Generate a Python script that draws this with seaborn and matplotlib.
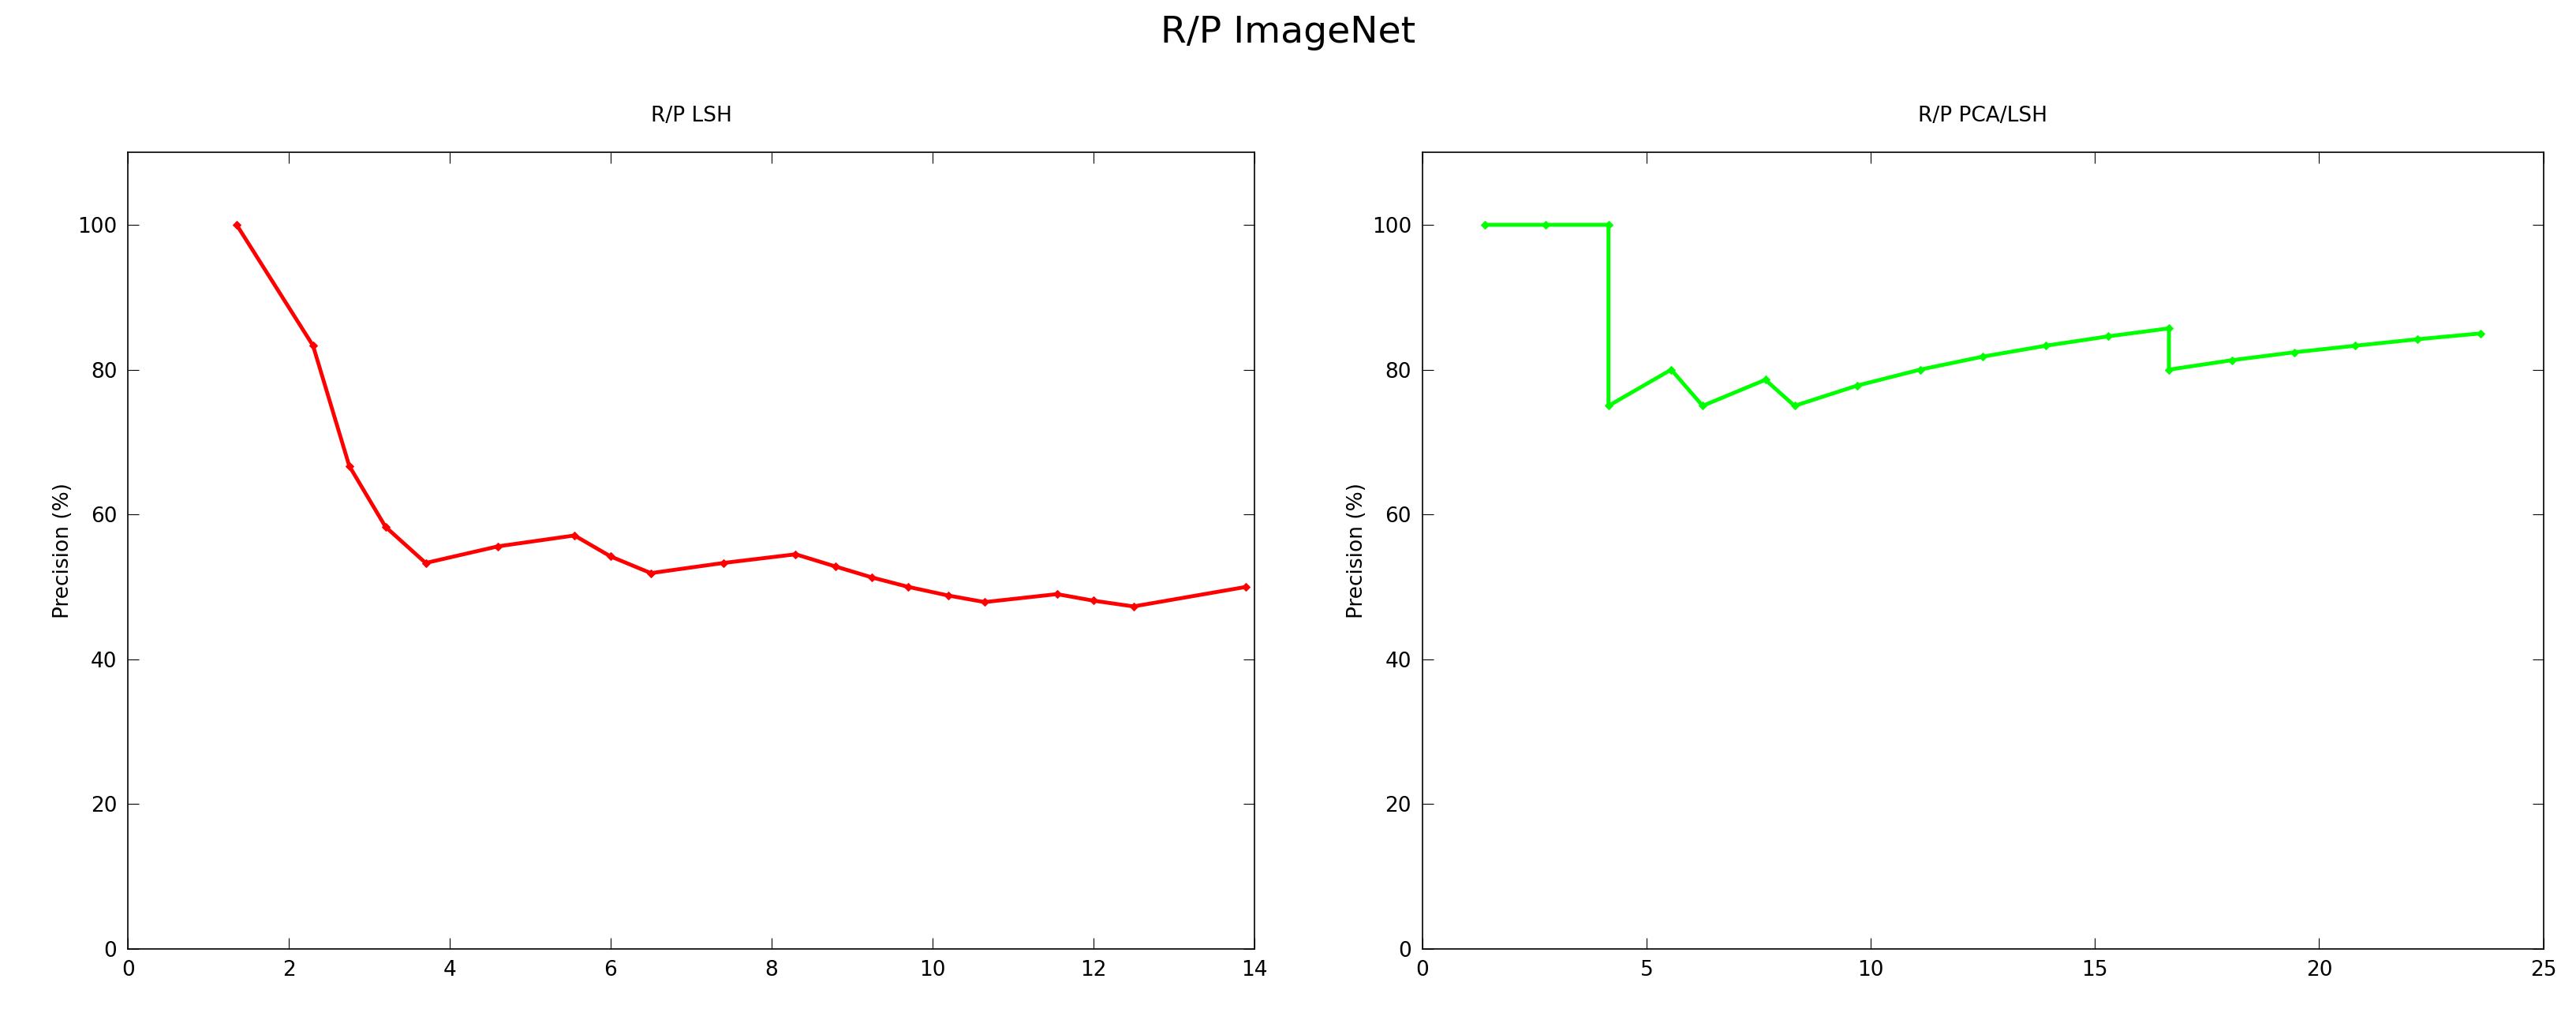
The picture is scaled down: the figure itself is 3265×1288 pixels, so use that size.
import matplotlib
matplotlib.use("Agg")
import matplotlib.pyplot as plt
import pandas as pd
import seaborn as sns

lsh_recall = [1.35, 2.3, 2.75, 3.2, 3.7, 4.6, 5.55, 6.0, 6.5, 7.4, 8.3, 8.8, 9.25, 9.7,
              10.2, 10.65, 11.55, 12.0, 12.5, 13.9]
lsh_precision = [100, 83.3, 66.7, 58.3, 53.3, 55.6, 57.1, 54.2, 51.9, 53.3, 54.5, 52.8,
                 51.3, 50.0, 48.8, 47.9, 49.0, 48.1, 47.3, 50.0]
pca_recall = [1.4, 2.75, 4.15, 4.15, 5.55, 6.25, 7.65, 8.3, 9.7, 11.1, 12.5, 13.9, 15.3,
              16.65, 16.65, 18.05, 19.45, 20.8, 22.2, 23.6]
pca_precision = [100, 100, 100, 75.0, 80.0, 75.0, 78.6, 75.0, 77.8, 80.0, 81.8, 83.3,
                 84.6, 85.7, 80.0, 81.3, 82.4, 83.3, 84.2, 85.0]

sns.set_style("white")
plt.rcParams["font.family"] = ["DejaVu Sans"]
plt.rcParams["text.color"] = "black"
plt.rcParams["axes.labelcolor"] = "black"
plt.rcParams["xtick.color"] = "black"
plt.rcParams["ytick.color"] = "black"

fig = plt.figure(figsize=(32.66, 12.88), dpi=100)
ax1 = fig.add_axes([0.0497, 0.066, 0.437, 0.784])
ax2 = fig.add_axes([0.552, 0.066, 0.435, 0.784])

panels = [
    (ax1, lsh_recall, lsh_precision, "#ff0000", "R/P LSH", 14, [0, 2, 4, 6, 8, 10, 12, 14]),
    (ax2, pca_recall, pca_precision, "#00ff00", "R/P PCA/LSH", 25, [0, 5, 10, 15, 20, 25]),
]
for ax, x, y, color, title, xmax, xt in panels:
    df = pd.DataFrame({"recall": x, "precision": y})
    sns.lineplot(data=df, x="recall", y="precision", ax=ax, color=color, linewidth=3.5,
                 marker="D", markersize=5, markeredgecolor=color, sort=False,
                 estimator=None)
    ax.set_xlim(0, xmax)
    ax.set_ylim(0, 110)
    ax.set_xticks(xt)
    ax.set_yticks([0, 20, 40, 60, 80, 100])
    ax.set_xlabel("")
    ax.set_ylabel("Precision (%)", fontsize=19)
    ax.set_title(title, fontsize=19, pad=28)
    ax.tick_params(direction="in", length=10, labelsize=19, top=True, right=True,
                   bottom=True, left=True, pad=10)
    for s in ax.spines.values():
        s.set_color("black")
        s.set_linewidth(1.2)

fig.suptitle("R/P ImageNet", fontsize=34, y=0.985)
fig.savefig("out.png", dpi=100)
